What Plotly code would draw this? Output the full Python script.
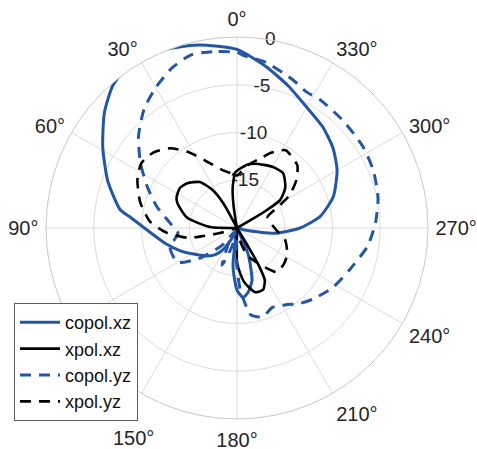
import plotly.graph_objects as go

# Radiation pattern cuts (angle in degrees, normalised gain in dB)
copol_xz_theta = [0, 12, 24, 33, 41, 49, 59, 70, 81, 84, 90, 102, 112, 122, 133, 141, 147, 156, 163,
                  170, 174, 180, 185, 190, 196, 203, 210, 250, 256, 262, 270, 278, 288, 300, 310,
                  320, 330, 340, 350, 360]
copol_xz_db = [-1.3, -0.4, 0.3, 0.55, -0.2, -1.6, -3.6, -5.6, -7.6, -8.7, -10.3, -12.3, -13.6, -14.8,
               -15.7, -16.4, -17.3, -19.0, -20, -20, -16.0, -13.5, -12.7, -13.2, -14.3, -17.0, -20,
               -20, -19.0, -16.0, -13.4, -11.2, -9.4, -7.9, -6.9, -6.1, -5.4, -4.2, -2.8, -1.3]

xpol_xz_theta = [0, 2, 6, 8, 10, 13, 25, 29, 33, 39, 48, 55, 63, 67, 78, 88, 95, 175, 180, 182, 188,
                 196, 203, 208, 210, 211, 213, 297, 300, 301, 303, 310, 320, 330, 344, 351, 360]
xpol_xz_db = [-14.0, -14.2, -15.7, -17.0, -18.9, -20, -20, -17.0, -15.2, -13.8, -13.0, -12.7, -12.9,
              -13.2, -14.6, -17.2, -20, -20, -16.5, -15.8, -14.2, -13.0, -13.0, -13.8, -15.3, -17.3,
              -20, -20, -18.0, -16.3, -14.6, -13.4, -12.5, -12.6, -13.0, -13.3, -14.0]

copol_yz_theta = [0, 8, 15, 22, 30, 38, 47, 56, 65, 75, 86, 95, 106, 120, 129, 139, 146, 152, 158,
                  165, 172, 178, 183, 187, 189, 196, 204, 212, 220, 227, 238, 250, 262, 272, 282,
                  293, 303, 315, 327, 333, 339, 350, 358, 360]
copol_yz_db = [-1.6, -1.35, -1.25, -1.9, -3.0, -4.2, -5.9, -7.8, -9.6, -11.3, -13.0, -13.8, -12.7,
               -12.8, -15.0, -17.6, -19.5, -18.0, -15.8, -18.0, -20, -17.0, -13.5, -11.6, -10.8,
               -10.3, -10.9, -10.5, -9.7, -9.1, -8.2, -7.4, -6.2, -5.5, -4.9, -4.5, -4.3, -4.2,
               -4.0, -4.0, -3.45, -2.4, -1.9, -1.6]

xpol_yz_theta = [0, 7, 14, 23, 32, 40, 48, 56, 64, 75, 86, 94, 101, 103, 106, 110, 185, 190, 200,
                 212, 222, 232, 242, 256, 266, 275, 283, 290, 298, 302, 309, 316, 328, 336, 340,
                 350, 360]
xpol_yz_db = [-14.5, -14.2, -13.75, -12.6, -10.7, -9.1, -8.2, -7.9, -8.4, -9.5, -10.9, -12.65,
              -14.7, -16.0, -18.0, -20, -20, -19.0, -17.0, -15.5, -13.8, -13.8, -14.05, -14.8,
              -15.8, -16.3, -16.5, -16.6, -14.9, -13.5, -12.0, -10.9, -10.4, -11.4, -12.1,
              -13.3, -14.5]

angle_ticks = list(range(0, 360, 30))
angle_labels = [f"{a}°" for a in angle_ticks]
radial_ticks = [-15, -10, -5, 0]
radial_labels = [str(v) for v in radial_ticks]
RADIAL_LABEL_ANGLE = 350  # radial tick labels run along this spoke

# the 150° label sits below the legend, so it is drawn separately
MOVED_LABEL = 150
axis_labels = ["" if a == MOVED_LABEL else t for a, t in zip(angle_ticks, angle_labels)]

BLUE = "#2456a6"
TEXT = "#262626"
FONT = "Liberation Sans, Arial, sans-serif"

series = [
    ("copol.xz", copol_xz_theta, copol_xz_db, BLUE, "solid", 3),
    ("xpol.xz", xpol_xz_theta, xpol_xz_db, "black", "solid", 2.6),
    ("copol.yz", copol_yz_theta, copol_yz_db, BLUE, "11px,8px", 3),
    ("xpol.yz", xpol_yz_theta, xpol_yz_db, "black", "11px,8px", 2.6),
]

fig = go.Figure()

# radial tick labels, centred on their spoke
fig.add_trace(go.Scatterpolar(
    theta=[RADIAL_LABEL_ANGLE] * len(radial_ticks), r=radial_ticks,
    text=radial_labels, mode="text", textposition="middle center",
    textfont=dict(size=19, color=TEXT, family=FONT),
    showlegend=False, hoverinfo="skip", cliponaxis=False,
))

for name, th, db, color, dash, width in series:
    fig.add_trace(go.Scatterpolar(
        theta=th, r=db, name=name, mode="lines",
        line=dict(color=color, width=width, dash=dash, shape="spline", smoothing=0.6),
        cliponaxis=False,
    ))

fig.update_layout(
    width=477, height=449,
    margin=dict(l=46, r=49, t=37, b=30, autoexpand=False),
    paper_bgcolor="white",
    font=dict(family=FONT, size=20, color=TEXT),
    polar=dict(
        bgcolor="white",
        domain=dict(x=[0, 1], y=[0, 1]),
        angularaxis=dict(
            direction="counterclockwise", rotation=90,
            tickmode="array", tickvals=angle_ticks, ticktext=axis_labels,
            showline=True, linecolor="#c8c8c8", linewidth=1,
            gridcolor="#dcdcdc",
            ticks="outside", ticklen=3, tickcolor="rgba(0,0,0,0)",
            tickfont=dict(size=20, color=TEXT),
        ),
        radialaxis=dict(
            range=[-20, 0], tickmode="array", tickvals=radial_ticks,
            showticklabels=False, showline=False, ticks="",
            gridcolor="#dcdcdc",
        ),
    ),
    showlegend=True,
    legend=dict(
        xref="container", yref="container",
        x=14 / 477, y=1 - 303 / 449, xanchor="left", yanchor="top",
        bgcolor="white", bordercolor="#5a5a5a", borderwidth=1,
        font=dict(size=18, color="#111111"),
        tracegroupgap=0, itemwidth=40,
    ),
    annotations=[dict(
        text=f"{MOVED_LABEL}°", xref="paper", yref="paper",
        x=(133 - 46) / 382, y=(419 - 438) / 382,
        xanchor="center", yanchor="middle", showarrow=False,
        font=dict(size=20, color=TEXT),
    )],
)

fig.write_html("out.html")
